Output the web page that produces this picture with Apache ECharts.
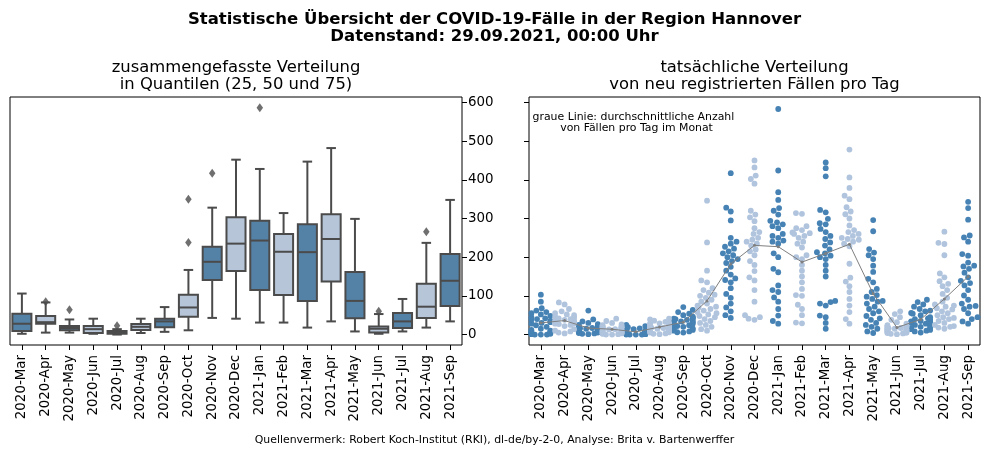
<!DOCTYPE html>
<html>
<head>
<meta charset="utf-8">
<script src="https://cdn.jsdelivr.net/npm/echarts@6/dist/echarts.min.js"></script>
<style>
html, body { margin: 0; padding: 0; background: #fff; }
#main { width: 989px; height: 455px; }
</style>
</head>
<body>
<div id="main"></div>
<script>
// Monate (Kategorien)
var months = ['2020-Mar', '2020-Apr', '2020-May', '2020-Jun', '2020-Jul', '2020-Aug', '2020-Sep',
    '2020-Oct', '2020-Nov', '2020-Dec', '2021-Jan', '2021-Feb', '2021-Mar', '2021-Apr',
    '2021-May', '2021-Jun', '2021-Jul', '2021-Aug', '2021-Sep'];

var yTicks = [0, 100, 200, 300, 400, 500, 600];

// Boxplot: [unterer Whisker, Q1, Median, Q3, oberer Whisker]
var boxStats = [
    [2, 9, 28, 54, 106], [5, 28, 32, 48, 83], [5, 11, 17, 22, 39], [2, 4, 14, 22, 41],
    [0, 2, 5, 9, 14], [4, 12, 20, 27, 41], [7, 19, 34, 41, 71], [11, 46, 70, 103, 167],
    [43, 141, 188, 227, 328], [41, 164, 235, 303, 452], [31, 115, 243, 294, 428],
    [31, 102, 214, 260, 314], [18, 87, 213, 285, 447], [34, 137, 247, 311, 482],
    [8, 42, 87, 162, 299], [2, 5, 15, 21, 53], [8, 17, 34, 56, 92], [18, 43, 72, 131, 237],
    [34, 74, 139, 208, 348]
];
// Ausreisser: [Monatsindex, Wert]
var fliers = [[1, 85], [2, 64], [4, 23], [7, 238], [7, 350], [8, 417], [10, 586], [15, 60], [17, 266]];

// neu registrierte Faelle pro Tag, je Monat
var d2020Mar = [0, 0, 0, 1, 2, 3, 5, 6, 8, 9, 10, 12, 15, 20, 24, 28, 30, 32, 35, 38, 40, 42, 45, 48, 52, 55, 58, 62, 68, 85, 103];
var d2020Apr = [3, 5, 8, 10, 14, 22, 25, 27, 28, 29, 30, 30, 31, 32, 32, 33, 35, 36, 38, 40, 42, 44, 46, 50, 52, 55, 60, 66, 78, 83];
var d2020May = [1, 2, 3, 4, 5, 6, 7, 8, 9, 10, 10, 11, 12, 13, 14, 15, 15, 16, 17, 18, 19, 20, 21, 22, 23, 25, 27, 30, 34, 39, 62];
var d2020Jun = [0, 0, 1, 2, 3, 3, 4, 5, 6, 7, 8, 9, 10, 11, 12, 13, 14, 15, 16, 17, 18, 19, 20, 21, 22, 24, 26, 30, 35, 41];
var d2020Jul = [0, 0, 0, 0, 1, 1, 1, 2, 2, 3, 3, 4, 4, 5, 5, 5, 6, 6, 7, 7, 8, 8, 9, 10, 10, 12, 14, 16, 19, 22, 25];
var d2020Aug = [1, 2, 3, 5, 6, 8, 10, 12, 13, 14, 15, 16, 17, 18, 19, 20, 20, 21, 22, 23, 24, 25, 26, 27, 28, 29, 31, 33, 36, 39, 41];
var d2020Sep = [5, 6, 8, 10, 12, 14, 16, 18, 20, 22, 24, 26, 28, 30, 32, 34, 35, 36, 37, 38, 40, 41, 42, 44, 46, 50, 54, 58, 64, 71];
var d2020Oct = [10, 14, 20, 25, 30, 35, 40, 45, 48, 52, 55, 58, 62, 66, 70, 72, 75, 80, 85, 90, 95, 100, 103, 108, 115, 120, 135, 140, 165, 238, 346];
var d2020Nov = [43, 50, 60, 70, 80, 95, 105, 120, 135, 141, 145, 155, 165, 175, 185, 190, 195, 200, 205, 210, 215, 222, 227, 235, 240, 250, 295, 318, 328, 417];
var d2020Dec = [38, 41, 45, 50, 85, 115, 140, 148, 164, 180, 190, 205, 215, 220, 230, 235, 240, 245, 250, 260, 265, 275, 293, 303, 310, 320, 390, 402, 411, 432, 450];
var d2021Jan = [28, 35, 49, 66, 85, 96, 110, 115, 127, 161, 170, 200, 210, 235, 240, 243, 250, 255, 260, 275, 280, 285, 290, 294, 310, 320, 327, 348, 368, 424, 583];
var d2021Feb = [29, 31, 50, 66, 77, 100, 102, 118, 135, 150, 165, 180, 195, 200, 205, 225, 235, 240, 250, 255, 260, 262, 264, 270, 275, 280, 312, 314];
var d2021Mar = [15, 30, 45, 49, 75, 80, 84, 87, 150, 165, 180, 195, 200, 204, 210, 213, 220, 230, 238, 247, 255, 265, 273, 285, 288, 299, 316, 322, 409, 430, 445];
var d2021Apr = [28, 40, 58, 75, 92, 110, 125, 137, 147, 183, 228, 235, 240, 245, 247, 250, 255, 260, 265, 270, 282, 300, 311, 318, 329, 350, 359, 379, 406, 478];
var d2021May = [4, 8, 15, 20, 25, 30, 38, 42, 48, 55, 60, 66, 72, 80, 85, 87, 92, 98, 102, 110, 118, 135, 144, 162, 178, 195, 205, 212, 221, 267, 296];
var d2021Jun = [1, 2, 3, 4, 5, 5, 6, 8, 9, 10, 11, 12, 13, 14, 15, 15, 16, 17, 18, 19, 20, 21, 22, 24, 28, 32, 38, 45, 53, 60];
var d2021Jul = [5, 8, 10, 12, 14, 17, 18, 20, 22, 25, 28, 30, 31, 32, 33, 34, 35, 38, 40, 42, 45, 50, 54, 56, 60, 62, 66, 72, 78, 84, 90];
var d2021Aug = [15, 18, 20, 22, 25, 30, 35, 40, 43, 45, 50, 55, 60, 65, 68, 72, 75, 78, 85, 95, 105, 115, 125, 131, 138, 148, 158, 205, 234, 237, 266];
var d2021Sep = [28, 34, 40, 45, 55, 66, 72, 74, 80, 90, 101, 115, 127, 133, 139, 148, 160, 170, 176, 178, 186, 204, 208, 240, 251, 256, 297, 327, 343];

var daily = [d2020Mar, d2020Apr, d2020May, d2020Jun, d2020Jul, d2020Aug, d2020Sep, d2020Oct,
    d2020Nov, d2020Dec, d2021Jan, d2021Feb, d2021Mar, d2021Apr, d2021May, d2021Jun,
    d2021Jul, d2021Aug, d2021Sep];

var Y_MIN = -27, Y_MAX = 614;
var gridL = {left: 10, top: 97, width: 452, height: 248};
var gridR = {left: 529, top: 97, width: 451, height: 248};

var DARK_BOX = '#5481a6', LIGHT_BOX = '#b6c5d8', EDGE = '#4b4b4b';
var DARK_DOT = '#4682b4', LIGHT_DOT = '#b0c4de';
var FONT = 'DejaVu Sans';

// Beeswarm wie bei seaborn: Punkte nach Wert sortiert, naechste freie Position zur Mitte
function swarmOffsets(values, pxPerUnit, diam, halfW) {
    var pts = values.map(function (v) { return {v: v, y: -v * pxPerUnit}; });
    pts.sort(function (a, b) { return a.v - b.v; });
    var placed = [];
    pts.forEach(function (p) {
        var neigh = placed.filter(function (q) { return Math.abs(q.y - p.y) < diam; });
        var cands = [0];
        var leftFirst = true;
        neigh.forEach(function (q) {
            var dx = Math.sqrt(diam * diam - (q.y - p.y) * (q.y - p.y)) * 1.05;
            if (leftFirst) cands.push(q.dx - dx, q.dx + dx);
            else cands.push(q.dx + dx, q.dx - dx);
            leftFirst = !leftFirst;
        });
        cands.sort(function (a, b) { return Math.abs(a) - Math.abs(b); });
        var chosen = cands[cands.length - 1];
        for (var k = 0; k < cands.length; k++) {
            var c = cands[k];
            var ok = neigh.every(function (q) {
                var ddx = q.dx - c, ddy = q.y - p.y;
                return ddx * ddx + ddy * ddy >= diam * diam * 0.999;
            });
            if (ok) { chosen = c; break; }
        }
        p.dx = chosen;
        placed.push(p);
    });
    placed.forEach(function (p) {
        if (p.dx > halfW) p.dx = halfW;
        if (p.dx < -halfW) p.dx = -halfW;
    });
    return placed;
}

var pxPerUnit = gridR.height / (Y_MAX - Y_MIN);
var bandPx = gridR.width / months.length;
var DOT = 5.8;
var darkDots = [], lightDots = [], means = [];
daily.forEach(function (vals, i) {
    var sum = vals.reduce(function (a, b) { return a + b; }, 0);
    means.push([i, sum / vals.length]);
    swarmOffsets(vals, pxPerUnit, DOT, bandPx * 0.4).forEach(function (p) {
        var pt = [i + p.dx / bandPx, p.v];
        (i % 2 === 0 ? darkDots : lightDots).push(pt);
    });
});

var boxData = boxStats.map(function (s, i) { return [i].concat(s); });

function renderBox(params, api) {
    var i = api.value(0);
    var band = api.size([1, 0])[0];
    var hw = band * 0.4, cw = band * 0.2;
    var pMin = api.coord([i, api.value(1)]);
    var pQ1 = api.coord([i, api.value(2)]);
    var pMed = api.coord([i, api.value(3)]);
    var pQ3 = api.coord([i, api.value(4)]);
    var pMax = api.coord([i, api.value(5)]);
    var x = pMed[0];
    var ls = {stroke: EDGE, lineWidth: 2};
    return {
        type: 'group',
        children: [
            {type: 'line', shape: {x1: x, y1: pQ1[1], x2: x, y2: pMin[1]}, style: ls},
            {type: 'line', shape: {x1: x, y1: pQ3[1], x2: x, y2: pMax[1]}, style: ls},
            {type: 'line', shape: {x1: x - cw, y1: pMin[1], x2: x + cw, y2: pMin[1]}, style: ls},
            {type: 'line', shape: {x1: x - cw, y1: pMax[1], x2: x + cw, y2: pMax[1]}, style: ls},
            {type: 'rect', shape: {x: x - hw, y: pQ3[1], width: 2 * hw, height: pQ1[1] - pQ3[1]},
                style: {fill: i % 2 === 0 ? DARK_BOX : LIGHT_BOX, stroke: EDGE, lineWidth: 2}},
            {type: 'line', shape: {x1: x - hw, y1: pMed[1], x2: x + hw, y2: pMed[1]}, style: ls}
        ]
    };
}

function catAxis(gridIndex) {
    return {
        type: 'category', gridIndex: gridIndex, data: months, boundaryGap: true,
        axisLine: {show: false, onZero: false},
        axisTick: {show: true, alignWithLabel: true, interval: 0, length: 5, lineStyle: {color: '#000', width: 1}},
        axisLabel: {rotate: 90, interval: 0, fontSize: 13.4, fontFamily: FONT, color: '#000', margin: 10},
        splitLine: {show: false}
    };
}

function valAxis(gridIndex, pos, showLabels) {
    return {
        type: 'value', gridIndex: gridIndex, position: pos, min: Y_MIN, max: Y_MAX,
        axisLine: {show: false, onZero: false},
        splitLine: {show: false},
        axisTick: {show: true, length: 5, lineStyle: {color: '#000', width: 1}, customValues: yTicks},
        axisLabel: {show: showLabels, customValues: yTicks, fontSize: 13.4, fontFamily: FONT, color: '#000', margin: 6}
    };
}

var chart = echarts.init(document.getElementById('main'));

var option = {
    animation: false,
    backgroundColor: '#fff',
    grid: [
        Object.assign({show: true, borderColor: '#000', borderWidth: 1, outerBoundsMode: 'none'}, gridL),
        Object.assign({show: true, borderColor: '#000', borderWidth: 1, outerBoundsMode: 'none'}, gridR)
    ],
    xAxis: [
        catAxis(0),
        catAxis(1),
        {type: 'value', gridIndex: 1, min: -0.5, max: months.length - 0.5, show: false,
            axisLine: {onZero: false}}
    ],
    yAxis: [valAxis(0, 'right', true), valAxis(1, 'left', false)],
    graphic: [
        {type: 'text', x: 494.5, y: 28.6, style: {
            text: 'Statistische Übersicht der COVID-19-Fälle in der Region Hannover\nDatenstand: 29.09.2021, 00:00 Uhr',
            fontFamily: FONT, fontWeight: 'bold', fontSize: 16.5, lineHeight: 17, fill: '#000',
            align: 'center', verticalAlign: 'middle'}},
        {type: 'text', x: 236, y: 76.7, style: {
            text: 'zusammengefasste Verteilung\nin Quantilen (25, 50 und 75)',
            fontFamily: FONT, fontSize: 16.4, lineHeight: 17, fill: '#000',
            align: 'center', verticalAlign: 'middle'}},
        {type: 'text', x: 754.5, y: 76.7, style: {
            text: 'tatsächliche Verteilung\nvon neu registrierten Fällen pro Tag',
            fontFamily: FONT, fontSize: 16.4, lineHeight: 17, fill: '#000',
            align: 'center', verticalAlign: 'middle'}},
        {type: 'text', x: 532.5, y: 122.7, z: 10, style: {
            text: 'graue Linie: durchschnittliche Anzahl\n        von Fällen pro Tag im Monat',
            fontFamily: FONT, fontSize: 10.9, lineHeight: 11, fill: '#000',
            align: 'left', verticalAlign: 'middle'}},
        {type: 'text', x: 494.5, y: 440, style: {
            text: 'Quellenvermerk: Robert Koch-Institut (RKI), dl-de/by-2-0, Analyse: Brita v. Bartenwerffer',
            fontFamily: FONT, fontSize: 10.9, fill: '#000',
            align: 'center', verticalAlign: 'middle'}}
    ],
    series: [
        {
            type: 'custom', name: 'box', xAxisIndex: 0, yAxisIndex: 0,
            renderItem: renderBox, data: boxData,
            encode: {x: 0, y: [1, 2, 3, 4, 5]}, z: 2
        },
        {
            type: 'scatter', name: 'fliers', xAxisIndex: 0, yAxisIndex: 0,
            data: fliers, symbol: 'diamond', symbolSize: [6.5, 9],
            itemStyle: {color: EDGE}, z: 3
        },
        {
            type: 'scatter', name: 'dunkel', xAxisIndex: 2, yAxisIndex: 1,
            data: darkDots, symbolSize: DOT, itemStyle: {color: DARK_DOT, opacity: 1}, z: 2
        },
        {
            type: 'scatter', name: 'hell', xAxisIndex: 2, yAxisIndex: 1,
            data: lightDots, symbolSize: DOT, itemStyle: {color: LIGHT_DOT, opacity: 1}, z: 2
        },
        {
            type: 'line', name: 'mittel', xAxisIndex: 2, yAxisIndex: 1,
            data: means, symbol: 'circle', symbolSize: 3, showSymbol: true,
            lineStyle: {color: '#7f7f7f', width: 1}, itemStyle: {color: '#7f7f7f'}, z: 4
        }
    ]
};

chart.setOption(option);
</script>
</body>
</html>
